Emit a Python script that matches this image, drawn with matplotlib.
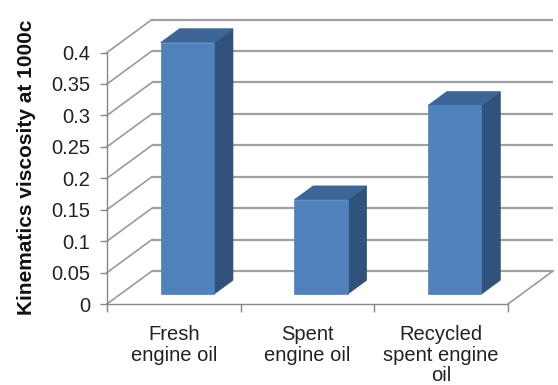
import matplotlib
matplotlib.use("Agg")
import matplotlib.pyplot as plt
from matplotlib.patches import Polygon
from matplotlib.ticker import FixedLocator, NullFormatter

plt.rcParams['font.family'] = ['Liberation Sans', 'DejaVu Sans']

categories = ["Fresh\nengine oil", "Spent\nengine oil", "Recycled\nspent engine\noil"]
viscosity = [0.4, 0.15, 0.3]
y_ticks = [0, 0.05, 0.1, 0.15, 0.2, 0.25, 0.3, 0.35, 0.4]
y_ticklabels = ["0", "0.05", "0.1", "0.15", "0.2", "0.25", "0.3", "0.35", "0.4"]
y_label = "Kinematics viscosity at 1000c"

W, H = 558, 385
fig = plt.figure(figsize=(W / 100, H / 100), dpi=100)
ax = fig.add_axes([107 / W, (H - 304) / H, 401 / W, 251.5 / H])
ax.set_xlim(0, len(categories))
ax.set_ylim(0, 0.4)
ax.patch.set_visible(False)

# oblique projection of depth (0 = front plane, 1 = back wall)
px_x = 401 / len(categories)
px_y = 251.5 / 0.4
KX, KY = 45 / px_x, 33 / px_y


def proj(x, y, z):
    return (x + z * KX, y + z * KY)


grid_kw = dict(color="#a0a0a0", lw=1.6, clip_on=False, zorder=1,
               solid_capstyle="butt")
nx = len(categories)
for t in y_ticks:
    # back wall gridline
    p0, p1 = proj(0, t, 1), proj(nx, t, 1)
    ax.plot([p0[0], p1[0]], [p0[1], p1[1]], **grid_kw)
    # side wall diagonal
    q0, q1 = proj(0, t, 0), proj(0, t, 1)
    ax.plot([q0[0], q1[0]], [q0[1], q1[1]], color="#9a9a9a", lw=1.2,
            clip_on=False, zorder=1)

# floor right edge
r0, r1 = proj(nx, 0, 0), proj(nx, 0, 1)
ax.plot([r0[0], r1[0]], [r0[1], r1[1]], color="#9a9a9a", lw=1.2,
        clip_on=False, zorder=1)

# 3D bars
front_c, side_c, top_c = "#4f81bd", "#30527d", "#3c6598"
bar_w, z0, z1 = 0.4, 0.3, 0.72
for i, v in enumerate(viscosity):
    xa, xb = i + 0.5 - bar_w / 2, i + 0.5 + bar_w / 2
    front = [proj(xa, 0, z0), proj(xb, 0, z0), proj(xb, v, z0), proj(xa, v, z0)]
    side = [proj(xb, 0, z0), proj(xb, 0, z1), proj(xb, v, z1), proj(xb, v, z0)]
    top = [proj(xa, v, z0), proj(xb, v, z0), proj(xb, v, z1), proj(xa, v, z1)]
    for pts, c in ((side, side_c), (top, top_c), (front, front_c)):
        ax.add_patch(Polygon(pts, closed=True, facecolor=c, edgecolor=c,
                             lw=0.5, clip_on=False, zorder=3))

# axes lines and ticks
for s in ("top", "right"):
    ax.spines[s].set_visible(False)
for s in ("left", "bottom"):
    ax.spines[s].set_color("#868686")
    ax.spines[s].set_linewidth(1.0)
    ax.spines[s].set_zorder(2)

ax.set_yticks(y_ticks)
ax.set_yticklabels(y_ticklabels)
ax.tick_params(axis="y", length=5, width=1, color="#868686", pad=7,
               labelsize=14.5, labelcolor="#222222")

ax.set_xticks([i + 0.5 for i in range(nx)])
ax.set_xticklabels(categories, linespacing=1.12)
ax.xaxis.set_minor_locator(FixedLocator(list(range(nx + 1))))
ax.xaxis.set_minor_formatter(NullFormatter())
ax.tick_params(axis="x", which="major", length=0, pad=15, labelsize=14.5,
               labelcolor="#222222")
ax.tick_params(axis="x", which="minor", length=6, width=1, color="#868686")

fig.text(27 / W, 1 - 167.5 / H, y_label, rotation=90, ha="center",
         va="center", fontsize=15, fontweight="bold", color="#111111")

fig.savefig("out.png", dpi=100)
